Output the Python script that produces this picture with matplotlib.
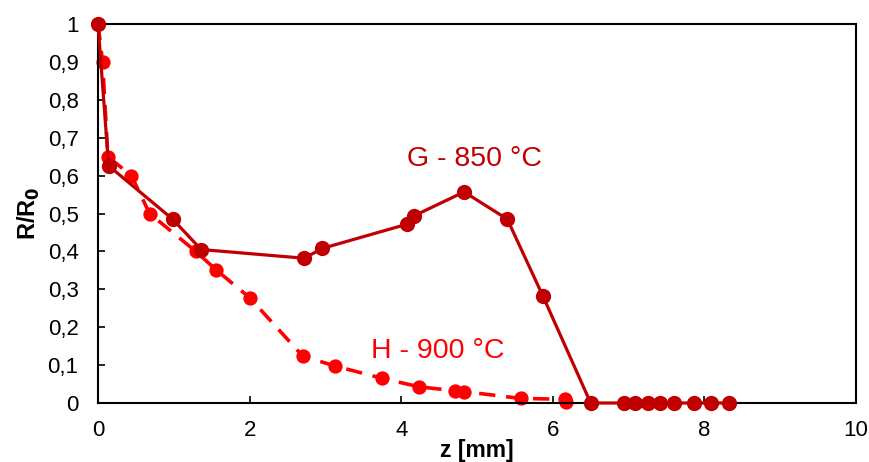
import matplotlib
matplotlib.use("Agg")
import matplotlib.pyplot as plt
import matplotlib.ticker as ticker

plt.rcParams["font.family"] = ["Liberation Sans", "DejaVu Sans"]

# ── Data ──────────────────────────────────────────────────────────────────────
g_z = [0.0, 0.14, 0.985, 1.36, 2.72, 2.96, 4.08, 4.17, 4.83, 5.40, 5.87,
       6.50, 6.94, 7.09, 7.26, 7.42, 7.60, 7.86, 8.09, 8.32]
g_r = [1.0, 0.626, 0.485, 0.405, 0.382, 0.408, 0.472, 0.494, 0.557, 0.485, 0.282,
       0.0, 0.0, 0.0, 0.0, 0.0, 0.0, 0.0, 0.0, 0.0]

h_z = [0.0, 0.06, 0.13, 0.44, 0.68, 1.29, 1.56, 2.0, 2.70, 3.12, 3.75,
       4.23, 4.71, 4.83, 5.58, 6.16, 6.18]
h_r = [1.0, 0.90, 0.65, 0.60, 0.50, 0.40, 0.351, 0.278, 0.124, 0.098, 0.065,
       0.043, 0.032, 0.030, 0.012, 0.010, 0.003]

G_COL = "#C00000"
H_COL = "#FF0000"

fig = plt.figure(figsize=(8.69, 4.62), dpi=100, facecolor="white")
ax = fig.add_axes([0.1128, 0.1277, 0.8722, 0.8203])

ax.plot(h_z, h_r, color=H_COL, linewidth=2.6, linestyle=(0, (4.5, 3)),
        marker="o", markersize=10.3, markeredgewidth=0, zorder=2, clip_on=False)
ax.plot(g_z, g_r, color=G_COL, linewidth=2.3,
        marker="o", markersize=11, markeredgewidth=0, zorder=3, clip_on=False)

ax.text(4.08, 0.645, "G - 850 °C", color=G_COL, fontsize=20.5, va="center", ha="left")
ax.text(3.6, 0.137, "H - 900 °C", color=H_COL, fontsize=20.5, va="center", ha="left")

ax.set_xlim(0, 10)
ax.set_ylim(0, 1)
ax.xaxis.set_major_locator(ticker.MultipleLocator(2))
ax.yaxis.set_major_locator(ticker.MultipleLocator(0.1))
ax.yaxis.set_major_formatter(ticker.FuncFormatter(
    lambda v, p: "0" if abs(v) < 1e-9 else ("1" if abs(v - 1) < 1e-9 else f"{v:.1f}".replace(".", ","))))
ax.tick_params(direction="in", length=5, width=1.2, labelsize=16, colors="black")
ax.tick_params(axis="y", pad=14)
ax.tick_params(axis="x", pad=12)

for s in ax.spines.values():
    s.set_linewidth(1.5)
    s.set_color("black")

ax.set_xlabel("z [mm]", fontsize=16.5, fontweight="bold", labelpad=-1)
ax.set_ylabel(r"R/R$_\mathbf{0}$", fontsize=17, fontweight="bold", labelpad=4)

fig.savefig("out.png", dpi=100, facecolor="white")
